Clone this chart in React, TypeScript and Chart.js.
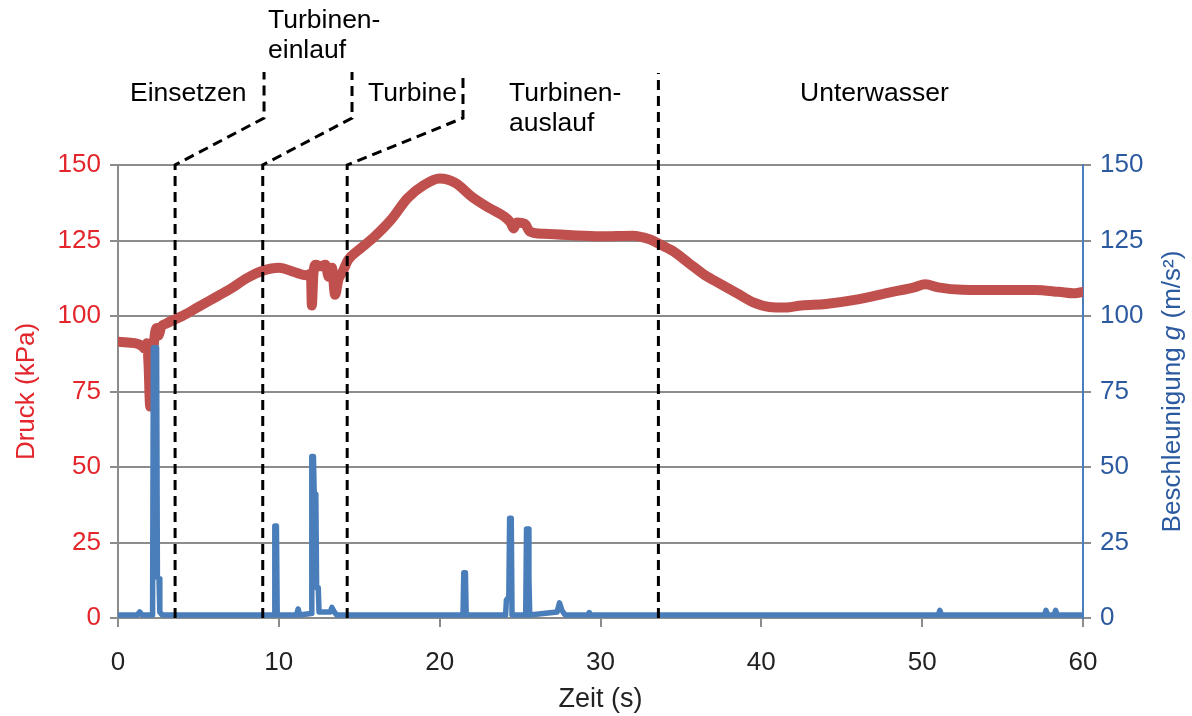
import React, { useEffect, useRef } from "react";
import { Chart, registerables } from "chart.js";

Chart.register(...registerables);

// Pressure trace (kPa) over time (s)
const pressureTime = [
  0, 0.6, 1.2, 1.5, 1.7, 1.8, 1.9, 2.0, 2.1, 2.25, 2.4, 2.5, 2.7, 3.0, 3.5, 4.0,
  5.0, 6.0, 7.0, 8.0, 9.0, 10.0, 11.0, 11.7, 12.0, 12.05, 12.15, 12.3, 12.6, 12.9,
  13.1, 13.3, 13.5, 13.7, 14.0, 14.3, 15.0, 16.0, 17.0, 18.0, 19.0, 20.0, 21.0,
  22.0, 23.0, 24.0, 24.4, 24.6, 24.8, 25.3, 25.6, 26.5, 28.0, 30.0, 32.0, 33.0,
  33.6, 34.5, 35.5, 36.5, 37.5, 38.5, 39.5, 40.5, 41.5, 42.5, 44.0, 46.0, 48.0,
  49.5, 50.2, 51.0, 52.5, 55.0, 57.0, 58.5, 59.5, 60.0,
];
const pressureKPa = [
  91.5, 91.2, 90.8, 90, 89, 91, 84, 70, 80, 92, 96, 93.5, 96.5, 97.5, 98.8, 100,
  103, 106, 109, 112.5, 115, 116, 114.5, 113.5, 114, 103.5, 114, 117, 116.5, 117,
  113, 116, 107, 112, 115, 118.5, 122, 126.5, 132, 139, 143.3, 145.5, 144,
  139.5, 136, 133, 131, 129, 131, 130.5, 128, 127.2, 126.8, 126.4, 126.6, 125.5,
  124, 121.5, 117.5, 113.5, 110.5, 107.5, 104.5, 103, 102.8, 103.5, 104, 105.5, 107.8,
  109.5, 110.5, 109.5, 108.7, 108.6, 108.6, 108, 107.5, 108,
];

// Acceleration trace (m/s²) over time (s)
const accelTime = [
  0, 1.2, 1.35, 1.5, 2.15, 2.2, 2.4, 2.45, 2.55, 2.6, 2.75, 9.7, 9.75, 9.85, 9.9,
  11.1, 11.2, 11.3, 12.0, 12.05, 12.15, 12.2, 12.3, 12.35, 12.45, 12.5, 13.2, 13.3,
  13.45, 13.6, 21.45, 21.5, 21.6, 21.65, 24.1, 24.15, 24.3, 24.35, 24.45, 24.5,
  25.35, 25.4, 25.5, 25.55, 25.6, 27.3, 27.45, 27.6, 27.8, 29.2, 29.3, 29.4,
  51.0, 51.1, 51.2, 57.6, 57.7, 57.8, 58.2, 58.3, 58.4, 60,
];
const accelMS2 = [
  1, 1, 2, 1, 1, 89.5, 89.5, 13.5, 13, 2, 1, 1, 30.5, 30.5, 1,
  1, 3, 1, 1.5, 53.5, 53.5, 41, 41, 10, 10, 2, 2, 3.5,
  2, 1, 1, 15, 15, 1, 1, 6, 7, 33, 33, 1,
  1, 29.5, 29.5, 13, 1, 2, 5, 2.5, 1, 1, 1.8, 1,
  1, 2.5, 1, 1, 2.5, 1, 1, 2.5, 1, 1,
];

const valueRange = [0, 150];
const timeRange = [0, 60];

// Phase boundaries (s) and the time positions where the leader lines turn upward
const phaseBounds = [3.55, 9.0, 14.25, 33.6];
const phaseElbows = [9.08, 14.55, 21.45];
const phaseNames = ["Einsetzen", "Turbinen-\neinlauf", "Turbine", "Turbinen-\nauslauf", "Unterwasser"];

const RED = "#c0504d";
const BLUE = "#4a7ebb";
const RED_TEXT = "#e3262b";
const BLUE_TEXT = "#2c5aa0";
const GRID = "#8c8c8c";
const FONT = "'Liberation Sans', Arial, sans-serif";

const phasePlugin = {
  id: "phaseMarkers",
  afterDatasetsDraw(chart: any) {
    const { ctx, chartArea, scales } = chart;
    const x = scales.x;
    const top = chartArea.top;
    const bottom = chartArea.bottom;
    ctx.save();
    ctx.strokeStyle = "#000";
    ctx.lineWidth = 3;
    ctx.setLineDash([10, 6]);
    phaseBounds.forEach((t, i) => {
      const px = x.getPixelForValue(t);
      ctx.beginPath();
      ctx.moveTo(px, bottom);
      if (i < phaseElbows.length) {
        const ex = x.getPixelForValue(phaseElbows[i]);
        ctx.lineTo(px, top);
        ctx.lineTo(ex, top - 47);
        ctx.lineTo(ex, top - 93);
      } else {
        ctx.lineTo(px, top - 92);
      }
      ctx.stroke();
    });
    ctx.setLineDash([]);

    // phase names above the plot
    ctx.fillStyle = "#000";
    ctx.font = `26.5px ${FONT}`;
    ctx.textAlign = "left";
    ctx.textBaseline = "alphabetic";
    const L = chartArea.left;
    const labelPos = [
      [L + 12, top - 64],
      [L + 150, top - 137],
      [L + 250, top - 64],
      [L + 391, top - 64],
      [L + 682, top - 64],
    ];
    phaseNames.forEach((name, i) => {
      const [lx, ly] = labelPos[i];
      name.split("\n").forEach((line, j) => {
        ctx.fillText(line, lx, ly + j * 30);
      });
    });

    // right axis title with italic symbol
    const parts = [
      { t: "Beschleunigung ", f: `26px ${FONT}` },
      { t: "g", f: `italic 26px ${FONT}` },
      { t: " (m/s²)", f: `26px ${FONT}` },
    ];
    let total = 0;
    const widths = parts.map((p) => {
      ctx.font = p.f;
      const w = ctx.measureText(p.t).width;
      total += w;
      return w;
    });
    ctx.translate(chart.width - 19, (top + bottom) / 2);
    ctx.rotate(-Math.PI / 2);
    ctx.fillStyle = BLUE_TEXT;
    ctx.textBaseline = "middle";
    let cx = -total / 2;
    parts.forEach((p, i) => {
      ctx.font = p.f;
      ctx.fillText(p.t, cx, 0);
      cx += widths[i];
    });
    ctx.restore();
  },
};

export default function App() {
  const canvasRef = useRef<HTMLCanvasElement | null>(null);

  useEffect(() => {
    document.body.style.margin = "0";
    const canvas = canvasRef.current;
    if (!canvas) return;
    const chart = new Chart(canvas, {
      type: "line",
      data: {
        datasets: [
          {
            label: "Beschleunigung",
            data: accelTime.map((t, i) => ({ x: t, y: accelMS2[i] })),
            yAxisID: "y1",
            borderColor: BLUE,
            borderWidth: 5.5,
            pointRadius: 0,
            tension: 0,
            borderJoinStyle: "round",
            borderCapStyle: "round",
            order: 0,
          },
          {
            label: "Druck",
            data: pressureTime.map((t, i) => ({ x: t, y: pressureKPa[i] })),
            yAxisID: "y",
            borderColor: RED,
            borderWidth: 10,
            pointRadius: 0,
            cubicInterpolationMode: "monotone",
            borderJoinStyle: "round",
            borderCapStyle: "round",
            order: 1,
          },
        ],
      },
      options: {
        animation: false,
        responsive: false,
        devicePixelRatio: 1,
        layout: { padding: { top: 165, left: 0, right: 0, bottom: 0 } },
        plugins: { legend: { display: false }, tooltip: { enabled: false } },
        scales: {
          x: {
            type: "linear",
            min: timeRange[0],
            max: timeRange[1],
            ticks: {
              stepSize: 10,
              color: "#222",
              font: { size: 26, family: FONT },
              padding: 20,
              maxRotation: 0,
            },
            grid: { drawOnChartArea: false, color: GRID, lineWidth: 2, tickLength: 9 },
            border: { color: GRID, width: 2 },
            title: {
              display: true,
              text: "Zeit (s)",
              color: "#222",
              font: { size: 27, family: FONT },
              padding: { top: 0, bottom: 0 },
            },
            afterFit: (s: any) => {
              s.height = 98;
            },
          },
          y: {
            position: "left",
            min: valueRange[0],
            max: valueRange[1],
            ticks: {
              stepSize: 25,
              color: RED_TEXT,
              font: { size: 26, family: FONT },
              padding: 9,
            },
            grid: { color: GRID, lineWidth: 2, tickLength: 8 },
            border: { color: GRID, width: 2 },
            title: {
              display: true,
              text: "Druck (kPa)",
              color: RED_TEXT,
              font: { size: 26, family: FONT },
              padding: { top: 11, bottom: 0 },
            },
            afterFit: (s: any) => {
              s.width = 118;
            },
          },
          y1: {
            position: "right",
            min: valueRange[0],
            max: valueRange[1],
            ticks: {
              stepSize: 25,
              color: BLUE_TEXT,
              font: { size: 26, family: FONT },
              padding: 9,
            },
            grid: { drawOnChartArea: false, color: GRID, lineWidth: 2, tickLength: 8 },
            border: { color: BLUE, width: 2 },
            afterFit: (s: any) => {
              s.width = 109;
            },
          },
        },
      },
      plugins: [phasePlugin],
    });
    return () => chart.destroy();
  }, []);

  return (
    <div style={{ position: "absolute", left: 0, top: 0, width: 1192, height: 716, background: "#fff" }}>
      <canvas ref={canvasRef} width={1192} height={716} style={{ display: "block" }} />
    </div>
  );
}
